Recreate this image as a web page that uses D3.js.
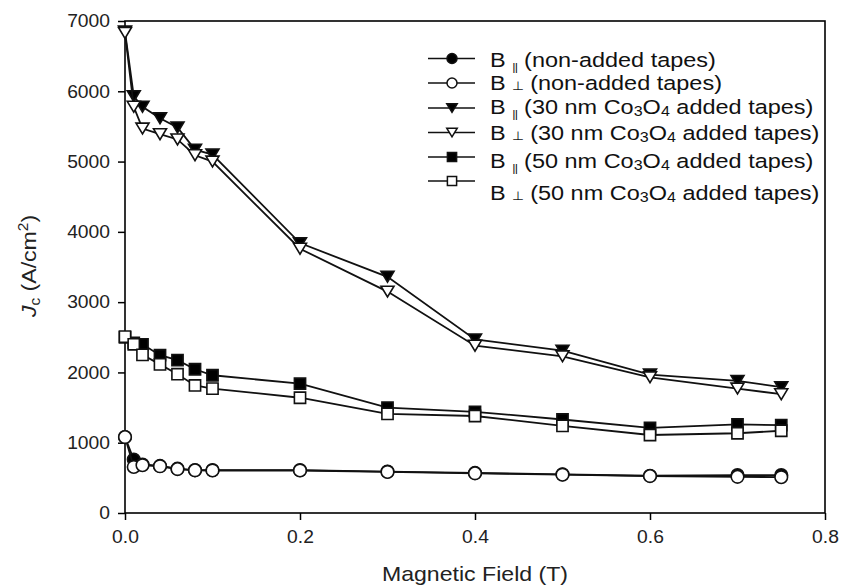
<!DOCTYPE html>
<html><head><meta charset="utf-8">
<script src="https://cdn.jsdelivr.net/npm/d3@7"></script>
<style>
html,body{margin:0;padding:0;background:#fff;}
svg{display:block;font-family:"Liberation Sans",Arial,sans-serif;}
</style></head>
<body><svg id="c" width="856" height="588"></svg>
<script>
const fieldT = [0, 0.01, 0.02, 0.04, 0.06, 0.08, 0.1, 0.2, 0.3, 0.4, 0.5, 0.6, 0.7, 0.75];
const nonParallel = [1080, 760, 690, 670, 630, 610, 610, 610, 590, 570, 550, 530, 540, 540];
const nonPerp     = [1080, 655, 680, 665, 625, 607, 605, 605, 585, 565, 545, 525, 515, 510];
const co30Parallel = [6850, 5930, 5780, 5615, 5485, 5170, 5100, 3840, 3360, 2470, 2310, 1970, 1880, 1790];
const co30Perp     = [6830, 5780, 5470, 5390, 5315, 5090, 5000, 3760, 3150, 2380, 2230, 1930, 1770, 1690];
const co50Parallel = [2500, 2420, 2400, 2245, 2175, 2045, 1960, 1840, 1500, 1440, 1330, 1210, 1260, 1250];
const co50Perp     = [2510, 2400, 2250, 2115, 1975, 1815, 1770, 1640, 1410, 1380, 1240, 1110, 1135, 1170];
const xTicks = [0, 0.2, 0.4, 0.6, 0.8];
const yTicks = [0, 1000, 2000, 3000, 4000, 5000, 6000, 7000];
const seriesNames = [
  ["B ", "||", " (non-added tapes)"],
  ["B ", "\u22A5", " (non-added tapes)"],
  ["B ", "||", " (30 nm Co", "3", "O", "4", " added tapes)"],
  ["B ", "\u22A5", " (30 nm Co", "3", "O", "4", " added tapes)"],
  ["B ", "||", " (50 nm Co", "3", "O", "4", " added tapes)"],
  ["B ", "\u22A5", " (50 nm Co", "3", "O", "4", " added tapes)"]
];

const series = [
  {vals: nonParallel, shape: "circle", fill: "#000"},
  {vals: nonPerp, shape: "circle", fill: "#fff"},
  {vals: co30Parallel, shape: "tri", fill: "#000"},
  {vals: co30Perp, shape: "tri", fill: "#fff"},
  {vals: co50Parallel, shape: "square", fill: "#000"},
  {vals: co50Perp, shape: "square", fill: "#fff"}
];

const W = 856, H = 588;
const m = {l: 125, r: 31, t: 21, b: 75};
const svg = d3.select("#c");
const x = d3.scaleLinear().domain([0, 0.8]).range([m.l, W - m.r]);
const y = d3.scaleLinear().domain([0, 7000]).range([H - m.b, m.t]);

function stretch(sel, f) {
  sel.each(function () {
    const len = this.getComputedTextLength();
    d3.select(this).attr("textLength", len * f).attr("lengthAdjust", "spacingAndGlyphs");
  });
}

function markerPath(shape, s) {
  if (shape === "circle") return d3.symbol(d3.symbolCircle, Math.PI * s * s)();
  if (shape === "square") return `M${-s},${-s}H${s}V${s}H${-s}Z`;
  const h = s * 1.75;
  return `M${-s * 1.05},${-h / 2}H${s * 1.05}L0,${h / 2}Z`;
}
const plotSize = {circle: 6.3, square: 5.6, tri: 6.2};
const legSize = {circle: 5, square: 4.6, tri: 5};

// axes
const gx = svg.append("g").attr("transform", `translate(0,${H - m.b})`)
  .call(d3.axisBottom(x).tickValues(xTicks).tickFormat(d3.format(".1f")).tickSize(7));
const gy = svg.append("g").attr("transform", `translate(${m.l},0)`)
  .call(d3.axisLeft(y).tickValues(yTicks).tickFormat(d3.format("d")).tickSize(7).tickPadding(8));
[gx, gy].forEach(g => {
  g.select(".domain").remove();
  g.selectAll("line").attr("stroke", "#000").attr("stroke-width", 1.5);
  g.selectAll("text").attr("font-size", 18).attr("fill", "#222").attr("font-family", "Liberation Sans, Arial, sans-serif");
});
gx.selectAll("text").attr("y", 30).attr("dy", 0);
stretch(gx.selectAll("text"), 1.07);
stretch(gy.selectAll("text"), 1.07);

// frame
svg.append("rect").attr("x", m.l).attr("y", m.t)
  .attr("width", W - m.l - m.r).attr("height", H - m.t - m.b)
  .attr("fill", "none").attr("stroke", "#000").attr("stroke-width", 1.6);

// data
const line = d3.line().x(d => x(d[0])).y(d => y(d[1]));
series.forEach(s => {
  const pts = fieldT.map((t, i) => [t, s.vals[i]]);
  const g = svg.append("g");
  g.append("path").attr("d", line(pts)).attr("fill", "none").attr("stroke", "#111").attr("stroke-width", 1.8);
  g.selectAll("path.mk").data(pts).join("path").attr("class", "mk")
    .attr("d", markerPath(s.shape, plotSize[s.shape]))
    .attr("transform", d => `translate(${x(d[0])},${y(d[1])})`)
    .attr("fill", s.fill).attr("stroke", "#111").attr("stroke-width", 1.6);
});

// legend
const legSymY = [58.5, 83, 108, 132.5, 157, 181];
const legTxtY = [59, 82, 106.5, 132, 160, 192];
series.forEach((s, i) => {
  const g = svg.append("g");
  g.append("line").attr("x1", 428).attr("x2", 475).attr("y1", legSymY[i]).attr("y2", legSymY[i])
    .attr("stroke", "#111").attr("stroke-width", 1.6);
  g.append("path").attr("d", markerPath(s.shape, legSize[s.shape]))
    .attr("transform", `translate(452,${legSymY[i]})`)
    .attr("fill", s.fill).attr("stroke", "#111").attr("stroke-width", 1.5);
  const t = g.append("text").attr("x", 490).attr("y", legTxtY[i] + 7.5)
    .attr("font-size", 20.5).attr("fill", "#111");
  const parts = seriesNames[i];
  const par = i % 2 === 0;
  parts.forEach((p, k) => {
    if (k === 1) {
      t.append("tspan").attr("font-size", par ? 11 : 12).attr("letter-spacing", par ? -0.5 : 0)
        .attr("dy", par ? 4 : 0).text(p);
    } else if (k === 2) {
      t.append("tspan").attr("dy", par ? -4 : 0).text(p);
    } else if (k === 3 || k === 5) {
      t.append("tspan").attr("font-size", 14).attr("dy", 2).text(p);
    } else if (k === 4 || k === 6) {
      t.append("tspan").attr("dy", -2).text(p);
    } else {
      t.append("tspan").text(p);
    }
  });
  stretch(t, 1.145);
});

// axis titles
const xt = svg.append("text").attr("x", (m.l + W - m.r) / 2).attr("y", 581)
  .attr("text-anchor", "middle").attr("font-size", 21).attr("fill", "#222").text("Magnetic Field (T)");
stretch(xt, 1.1);
const yt = svg.append("text").attr("transform", `translate(36,266) rotate(-90)`)
  .attr("text-anchor", "middle").attr("font-size", 21).attr("fill", "#222");
yt.append("tspan").attr("font-style", "italic").text("J");
yt.append("tspan").attr("font-size", 14).attr("dy", 4).text("c");
yt.append("tspan").attr("dy", -4).text(" (A/cm");
yt.append("tspan").attr("font-size", 14).attr("dy", -8).text("2");
yt.append("tspan").attr("dy", 8).text(")");
stretch(yt, 1.1);
</script></body></html>
